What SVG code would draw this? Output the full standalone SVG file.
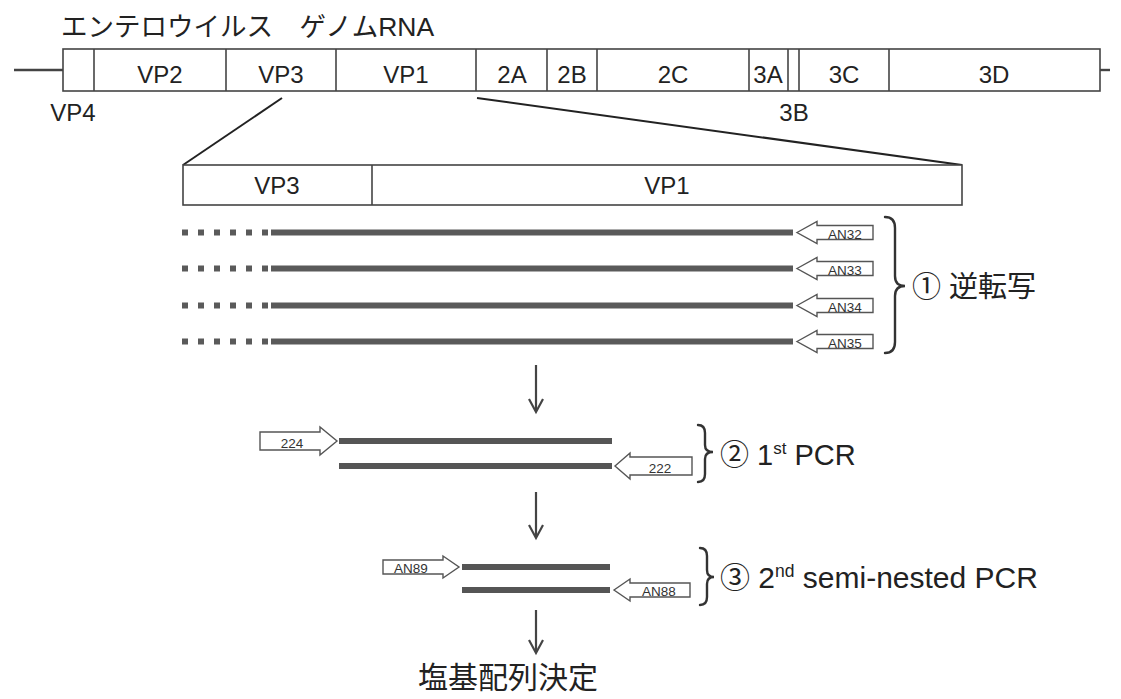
<svg xmlns="http://www.w3.org/2000/svg" width="1121" height="699" viewBox="0 0 1121 699">
<style>
.t{font-family:"Liberation Sans","Noto Sans CJK JP",sans-serif;fill:#222}
.jp{font-family:"Noto Sans CJK JP","Liberation Sans",sans-serif;fill:#222}
.lbl{font-size:24px;text-anchor:middle}
.box{fill:#fff;stroke:#444;stroke-width:1.6}
.div{stroke:#444;stroke-width:1.6}
.thin{stroke:#222;stroke-width:2;fill:none}
.dna{stroke:#5a5a5a;stroke-width:6}
.dna2{stroke:#555;stroke-width:6}
.dot{fill:#5a5a5a}
.primer{fill:#fff;stroke:#555;stroke-width:1.4}
.pt{font-family:"Liberation Sans",sans-serif;font-size:13.5px;fill:#333;text-anchor:middle}
.brace{fill:none;stroke:#333;stroke-width:2.4;stroke-linecap:round}
.arr{fill:none;stroke:#444;stroke-width:2.2}
</style>

<g id="title"><text class="jp" x="61" y="36" font-size="26.5">エンテロウイルス　ゲノム<tspan font-family="Liberation Sans">RNA</tspan></text></g>

<g id="genome">
<line x1="14" y1="70" x2="63" y2="70" stroke="#444" stroke-width="2.4"/>
<line x1="1100" y1="70" x2="1110" y2="70" stroke="#444" stroke-width="2.4"/>
<rect class="box" x="63" y="49" width="1037" height="42"/>
<line class="div" x1="94" y1="49" x2="94" y2="91"/>
<line class="div" x1="226" y1="49" x2="226" y2="91"/>
<line class="div" x1="336" y1="49" x2="336" y2="91"/>
<line class="div" x1="476" y1="49" x2="476" y2="91"/>
<line class="div" x1="547" y1="49" x2="547" y2="91"/>
<line class="div" x1="597" y1="49" x2="597" y2="91"/>
<line class="div" x1="749" y1="49" x2="749" y2="91"/>
<line class="div" x1="788" y1="49" x2="788" y2="91"/>
<line class="div" x1="799" y1="49" x2="799" y2="91"/>
<line class="div" x1="889" y1="49" x2="889" y2="91"/>
<text class="t lbl" x="160" y="83">VP2</text>
<text class="t lbl" x="281" y="83">VP3</text>
<text class="t lbl" x="406" y="83">VP1</text>
<text class="t lbl" x="512" y="83">2A</text>
<text class="t lbl" x="572" y="83">2B</text>
<text class="t lbl" x="673" y="83">2C</text>
<text class="t lbl" x="768" y="83">3A</text>
<text class="t lbl" x="844" y="83">3C</text>
<text class="t lbl" x="994" y="83">3D</text>
<text class="t lbl" x="73" y="121">VP4</text>
<text class="t lbl" x="794" y="121">3B</text>
</g>

<g id="zoom-lines">
<line class="thin" x1="282" y1="98" x2="183" y2="165"/>
<line class="thin" x1="477" y1="98" x2="962" y2="165"/>
</g>

<g id="vp-region">
<rect class="box" x="183" y="165" width="779" height="40"/>
<line class="div" x1="372" y1="165" x2="372" y2="205"/>
<text class="t lbl" x="277" y="194">VP3</text>
<text class="t lbl" x="667" y="194">VP1</text>
</g>

<g id="rt-strands">
<g id="row1">
<rect class="dot" x="182" y="229.5" width="6" height="6"/><rect class="dot" x="198" y="229.5" width="6" height="6"/><rect class="dot" x="214" y="229.5" width="6" height="6"/><rect class="dot" x="230" y="229.5" width="6" height="6"/><rect class="dot" x="246" y="229.5" width="6" height="6"/><rect class="dot" x="262" y="229.5" width="6" height="6"/>
<line class="dna" x1="271" y1="232.5" x2="793" y2="232.5"/>
<path class="primer" d="M797,232.5 L817,221.5 L817,225.5 L873,225.5 L873,239.5 L817,239.5 L817,243.5 Z"/>
<text class="pt" x="845" y="238.5">AN32</text>
</g>
<g id="row2">
<rect class="dot" x="182" y="265.5" width="6" height="6"/><rect class="dot" x="198" y="265.5" width="6" height="6"/><rect class="dot" x="214" y="265.5" width="6" height="6"/><rect class="dot" x="230" y="265.5" width="6" height="6"/><rect class="dot" x="246" y="265.5" width="6" height="6"/><rect class="dot" x="262" y="265.5" width="6" height="6"/>
<line class="dna" x1="271" y1="268.5" x2="793" y2="268.5"/>
<path class="primer" d="M797,268.5 L817,257.5 L817,261.5 L873,261.5 L873,275.5 L817,275.5 L817,279.5 Z"/>
<text class="pt" x="845" y="274.5">AN33</text>
</g>
<g id="row3">
<rect class="dot" x="182" y="302.5" width="6" height="6"/><rect class="dot" x="198" y="302.5" width="6" height="6"/><rect class="dot" x="214" y="302.5" width="6" height="6"/><rect class="dot" x="230" y="302.5" width="6" height="6"/><rect class="dot" x="246" y="302.5" width="6" height="6"/><rect class="dot" x="262" y="302.5" width="6" height="6"/>
<line class="dna" x1="271" y1="305.5" x2="793" y2="305.5"/>
<path class="primer" d="M797,305.5 L817,294.5 L817,298.5 L873,298.5 L873,312.5 L817,312.5 L817,316.5 Z"/>
<text class="pt" x="845" y="311.5">AN34</text>
</g>
<g id="row4">
<rect class="dot" x="182" y="338.5" width="6" height="6"/><rect class="dot" x="198" y="338.5" width="6" height="6"/><rect class="dot" x="214" y="338.5" width="6" height="6"/><rect class="dot" x="230" y="338.5" width="6" height="6"/><rect class="dot" x="246" y="338.5" width="6" height="6"/><rect class="dot" x="262" y="338.5" width="6" height="6"/>
<line class="dna" x1="271" y1="341.5" x2="793" y2="341.5"/>
<path class="primer" d="M797,341.5 L817,330.5 L817,334.5 L873,334.5 L873,348.5 L817,348.5 L817,352.5 Z"/>
<text class="pt" x="845" y="347.5">AN35</text>
</g>
<path class="brace" d="M885,217 Q895,217 895,228 L895,276 Q895,286 905,286 Q895,286 895,296 L895,342 Q895,353 885,353"/>
<text class="t" x="912" y="297" font-size="29">① 逆転写</text>
</g>

<g id="pcr1">
<path class="primer" d="M260,432 L320,432 L320,427 L337,441 L320,455 L320,450 L260,450 Z"/>
<text class="pt" x="292" y="448">224</text>
<line class="dna2" x1="339" y1="441" x2="612" y2="441"/>
<line class="dna2" x1="339" y1="466" x2="612" y2="466"/>
<path class="primer" d="M615,466 L630,453 L630,457 L692,457 L692,475 L630,475 L630,479 Z"/>
<text class="pt" x="660" y="473">222</text>
<path class="brace" d="M698,425 Q705,425 705,433 L705,445 Q705,452 713,452 Q705,452 705,459 L705,474 Q705,482 698,482"/>
<text class="t" x="720" y="465" font-size="29">② 1<tspan font-size="17" dy="-11">st</tspan><tspan dy="11"> PCR</tspan></text>
</g>

<g id="pcr2">
<path class="primer" d="M383,560 L443,560 L443,556 L459,567 L443,578 L443,574 L383,574 Z"/>
<text class="pt" x="411" y="573">AN89</text>
<line class="dna2" x1="462" y1="567" x2="610" y2="567"/>
<line class="dna2" x1="462" y1="590" x2="610" y2="590"/>
<path class="primer" d="M614,590 L630,579 L630,583 L690,583 L690,597 L630,597 L630,601 Z"/>
<text class="pt" x="659" y="596">AN88</text>
<path class="brace" d="M700,548 Q707,548 707,556 L707,570 Q707,577 714,577 Q707,577 707,584 L707,597 Q707,605 700,605"/>
<text class="t" x="720" y="588" font-size="30">③ 2<tspan font-size="17.5" dy="-11">nd</tspan><tspan dy="11"> semi-nested PCR</tspan></text>
</g>

<g id="flow-arrows">
<line class="arr" x1="536" y1="365" x2="536" y2="411"/>
<path class="arr" d="M529,399 L536,412 L543,399"/>
<line class="arr" x1="536" y1="492" x2="536" y2="537"/>
<path class="arr" d="M529,525 L536,538 L543,525"/>
<line class="arr" x1="536" y1="610" x2="536" y2="652"/>
<path class="arr" d="M529,640 L536,653 L543,640"/>
</g>

<g id="result"><text class="jp" x="418" y="688" font-size="30">塩基配列決定</text></g>
</svg>
